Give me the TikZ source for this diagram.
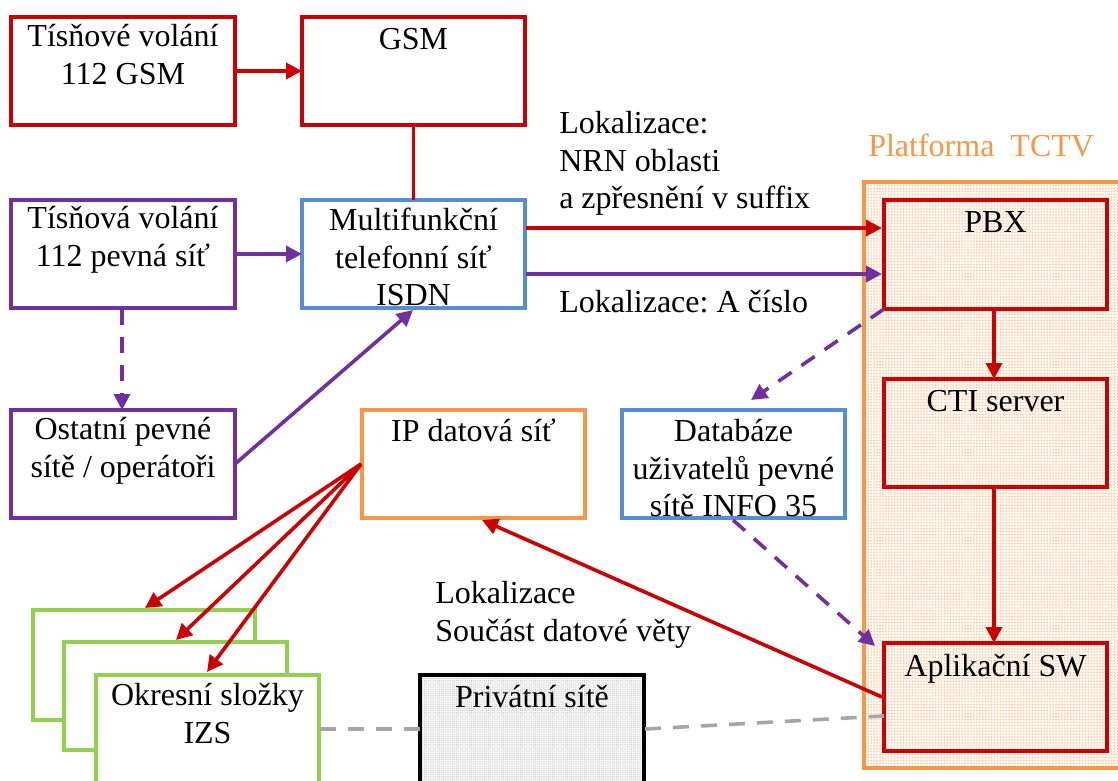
\documentclass[tikz,border=0pt]{standalone}
\usepackage{fontspec}
\setmainfont{Liberation Serif}
\usetikzlibrary{arrows.meta,patterns.meta}
\definecolor{cred}{HTML}{CC0000}
\definecolor{cpur}{HTML}{7030A0}
\definecolor{cblu}{HTML}{558ED5}
\definecolor{cora}{HTML}{F79646}
\definecolor{cgrn}{HTML}{92D050}
\definecolor{cgry}{HTML}{A6A6A6}
\tikzset{
 x=0.75pt,y=-0.75pt,
 base/.style={draw,line width=2.7pt,anchor=north west,inner sep=0pt,outer sep=0pt},
 txt/.style={align=center,font=\fontsize{24}{28.2}\selectfont\frenchspacing,text=black,inner sep=0pt,anchor=north},
 free/.style={align=left,font=\fontsize{24}{28.2}\selectfont\frenchspacing,text=black,inner sep=0pt,anchor=north west},
 conn/.style={line width=2.7pt,-{Triangle[length=12pt,width=12pt]}},
 plain/.style={line width=2.7pt},
 dash1/.style={dash pattern=on 12pt off 9pt},
}
\newcommand{\bx}[8]{\node[base,draw=#1,fill=#8,minimum width=#4*0.75pt,minimum height=#5*0.75pt] (#2) at (#3) {};
 \node[txt] (#2t) at ([yshift=-#6*0.75pt]#2.north) {#7};}
\begin{document}
\begin{tikzpicture}
\useasboundingbox (0,0) rectangle (1118,781);
\clip (0,0) rectangle (1118,781);
% platform
\fill[white] (0,0) rectangle (1118,781);
\node[base,draw=cora,fill=cora!8,minimum width=270*0.75pt,minimum height=586*0.75pt] (plat) at (864,182) {};
\fill[pattern={Dots[distance=2.2pt,radius=0.6pt]},pattern color=cora!55] (plat.north west) rectangle (plat.south east);
\draw[line width=2.7pt,draw=cora] (plat.north west) rectangle (plat.south east);
\node[free,text=cora] (plattxt) at (868,134) {Platforma\ \ TCTV};
% top-left boxes
\bx{cred}{gsmcall}{11,17}{224}{108}{7}{Tísňové volání\\112 GSM}{white}
\bx{cred}{gsm}{302,17}{223}{108}{11}{GSM}{white}
\bx{cpur}{fixed}{11,200}{224}{108}{6}{Tísňová volání\\112 pevná síť}{white}
\bx{cblu}{isdn}{302,200}{223}{108}{8}{Multifunkční\\telefonní síť\\ISDN}{white}
\bx{cpur}{other}{11,410}{224}{108}{7}{Ostatní pevné\\sítě / operátoři}{white}
\bx{cora}{ip}{362,410}{223}{108}{9}{IP datová síť}{white}
\bx{cblu}{db}{622,410}{223}{108}{9}{Databáze\\uživatelů pevné\\sítě INFO 35}{white}
\node[base,draw=cred,minimum width=223*0.75pt,minimum height=109*0.75pt] (pbx) at (884,200) {};
\node[txt] (pbxt) at ([yshift=-11*0.75pt]pbx.north) {PBX};
\node[base,draw=cred,minimum width=223*0.75pt,minimum height=108*0.75pt] (cti) at (884,379) {};
\node[txt] (ctit) at ([yshift=-11*0.75pt]cti.north) {CTI server};
\node[base,draw=cred,minimum width=223*0.75pt,minimum height=108*0.75pt] (app) at (884,643) {};
\node[txt] (appt) at ([yshift=-11*0.75pt]app.north) {Aplikační SW};
% green stack
\node[base,draw=cgrn,fill=white,minimum width=222*0.75pt,minimum height=110*0.75pt] (g1) at (33,610) {};
\node[base,draw=cgrn,fill=white,minimum width=223*0.75pt,minimum height=108*0.75pt] (g2) at (64,642) {};
\bx{cgrn}{g3}{96,675}{223}{140}{8}{Okresní složky\\IZS}{white}
% private
\node[base,draw=black,fill=black!3,minimum width=224*0.75pt,minimum height=140*0.75pt] (priv) at (420,675) {};
\fill[pattern={Dots[distance=1.6pt,radius=0.4pt]},pattern color=black!25] (priv.north west) rectangle (priv.south east);
\draw[line width=2.7pt] (priv.north west) rectangle (priv.south east);
\node[txt] (privt) at ([yshift=-10*0.75pt]priv.north) {Privátní sítě};
% free texts
\node[free] (loc1) at (559,111) {Lokalizace:\\NRN oblasti\\a zpřesnění v suffix};
\node[free] (loc2) at (559,290) {Lokalizace: A číslo};
\node[free] (loc3) at (435,581) {Lokalizace\\Součást datové věty};
% connectors
\coordinate (isdnR1) at (526,228); \coordinate (pbxL1) at (882,228);
\coordinate (isdnR2) at (526,274); \coordinate (pbxL2) at (882,274);
\draw[conn,cred] (gsmcall.east) -- (gsm.west);
\draw[plain,cred] (gsm.south -| isdn.north) -- (isdn.north);
\draw[conn,cred] (isdnR1) -- (pbxL1);
\draw[conn,cpur] (isdnR2) -- (pbxL2);
\draw[conn,cpur] (fixed.east) -- (isdn.west);
\draw[conn,cpur,dash1] (122,309) -- (other.north -| 122,0);
\draw[conn,cpur] (other.east) -- (413,310);
\draw[conn,cpur,dash1] (pbx.south west) -- (751,400);
\draw[conn,cpur,dash1] (733,520) -- (875,646);
\draw[conn,cred] (pbx.south -| 994,0) -- (cti.north -| 994,0);
\draw[conn,cred] (cti.south -| 994,0) -- (app.north -| 994,0);
\draw[conn,cred] (882,697) -- (482,520);
\draw[conn,cred] (361,464) -- (145,608);
\draw[conn,cred] (361,464) -- (176,640);
\draw[conn,cred] (361,464) -- (207,672);
\draw[plain,cgry,dash1] (320,729) -- (priv.west |- 0,729);
\draw[plain,cgry,dash1] (645,729) -- (884,716);
\end{tikzpicture}
\end{document}
